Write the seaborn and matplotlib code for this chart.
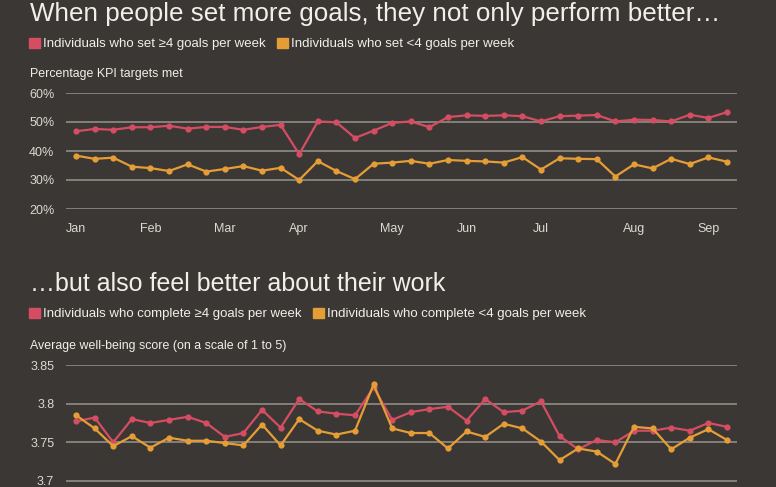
import pandas as pd
import seaborn as sns
import matplotlib.pyplot as plt
from matplotlib.patches import Patch

# weekly points, Jan to Sep
weeks = list(range(36))
month_labels = ["Jan", "Feb", "Mar", "Apr", "May", "Jun", "Jul", "Aug", "Sep"]
month_weeks = [0, 4, 8, 12, 17, 21, 25, 30, 34]

kpi_labels = ["Individuals who set \u22654 goals per week",
              "Individuals who set <4 goals per week"]
kpi_high = [46.8, 47.6, 47.3, 48.2, 48.2, 48.7, 47.7, 48.3, 48.3, 47.3, 48.3, 49.0,
            38.9, 50.2, 49.9, 44.5, 47.0, 49.7, 50.2, 48.2, 51.7, 52.3, 52.1, 52.3,
            52.0, 50.2, 52.0, 52.2, 52.4, 50.2, 50.8, 50.7, 50.2, 52.5, 51.4, 53.4]
kpi_low = [38.4, 37.3, 37.7, 34.6, 34.1, 33.1, 35.4, 32.9, 33.8, 34.8, 33.2, 34.2,
           30.0, 36.5, 33.1, 30.3, 35.6, 36.0, 36.6, 35.6, 36.9, 36.6, 36.4, 36.0,
           37.9, 33.6, 37.5, 37.3, 37.2, 31.2, 35.4, 34.0, 37.3, 35.5, 37.8, 36.3]
kpi_ticks = [20, 30, 40, 50, 60]

wb_labels = ["Individuals who complete \u22654 goals per week",
             "Individuals who complete <4 goals per week"]
wb_high = [3.777, 3.782, 3.750, 3.780, 3.775, 3.779, 3.783, 3.775, 3.757, 3.762, 3.792, 3.769,
           3.806, 3.790, 3.787, 3.785, 3.821, 3.779, 3.789, 3.793, 3.796, 3.778, 3.806, 3.789,
           3.791, 3.803, 3.758, 3.741, 3.753, 3.750, 3.765, 3.765, 3.769, 3.765, 3.775, 3.770]
wb_low = [3.785, 3.768, 3.745, 3.758, 3.743, 3.756, 3.752, 3.752, 3.749, 3.746, 3.773, 3.746,
          3.780, 3.765, 3.760, 3.765, 3.825, 3.768, 3.762, 3.762, 3.742, 3.764, 3.757, 3.774,
          3.768, 3.751, 3.727, 3.742, 3.738, 3.722, 3.770, 3.768, 3.741, 3.756, 3.767, 3.753]
wb_ticks = [3.7, 3.75, 3.8, 3.85]
wb_tick_labels = ["3.7", "3.75", "3.8", "3.85"]

BG = "#3b3734"
RED = "#d44d63"
ORANGE = "#e59d36"
GRID = "#8a857e"
TEXT = "#f2efea"
TICK = "#dcd8d2"

sns.set_style("dark", {"axes.facecolor": BG, "figure.facecolor": BG})
plt.rcParams["font.family"] = ["Liberation Sans", "DejaVu Sans"]


def long_form(high, low, labels):
    return pd.DataFrame({
        "week": weeks + weeks,
        "value": high + low,
        "group": [labels[0]] * len(high) + [labels[1]] * len(low),
    })


def style_axes(ax, ticks, tick_labels, ylim):
    ax.set_xlim(-0.54, 35.54)
    ax.set_ylim(*ylim)
    ax.set_yticks(ticks)
    ax.set_yticklabels(tick_labels)
    ax.grid(axis="y", color=GRID, linewidth=1.3)
    ax.grid(axis="x", visible=False)
    for s in ax.spines.values():
        s.set_visible(False)
    ax.tick_params(axis="both", length=0, colors=TICK, labelsize=9)
    ax.tick_params(axis="y", pad=8.5)
    ax.tick_params(axis="x", pad=10)
    ax.set_xlabel("")
    ax.set_ylabel("")


fig = plt.figure(figsize=(7.76, 4.87), dpi=100)
W, H = 776, 487


def px_axes(x0, y0, x1, y1):
    return fig.add_axes([x0 / W, 1 - y1 / H, (x1 - x0) / W, (y1 - y0) / H])


# top chart
ax1 = px_axes(66, 93, 737, 209)
sns.lineplot(data=long_form(kpi_high, kpi_low, kpi_labels), x="week", y="value",
             hue="group", palette=[RED, ORANGE], marker="o", markersize=4.5,
             markeredgewidth=0, linewidth=1.6, legend=False, ax=ax1)
style_axes(ax1, kpi_ticks, [f"{t}%" for t in kpi_ticks], (20, 60))
ax1.set_xticks(month_weeks)
ax1.set_xticklabels(month_labels)

# bottom chart (cut off by the bottom of the image)
ax2 = px_axes(66, 365, 737, 487)
sns.lineplot(data=long_form(wb_high, wb_low, wb_labels), x="week", y="value",
             hue="group", palette=[RED, ORANGE], marker="o", markersize=4.5,
             markeredgewidth=0, linewidth=1.6, legend=False, ax=ax2)
style_axes(ax2, wb_ticks, wb_tick_labels, (3.6922, 3.85))
ax2.set_xticks([])

# titles, legends, axis captions
fig.text(30 / W, 1 - 14 / H, "When people set more goals, they not only perform better\u2026",
         color=TEXT, fontsize=18.7, va="center", ha="left")
fig.text(30 / W, 1 - 284 / H, "\u2026but also feel better about their work",
         color=TEXT, fontsize=18, va="center", ha="left")
fig.text(30 / W, 1 - 74 / H, "Percentage KPI targets met",
         color=TEXT, fontsize=8.9, va="center", ha="left")
fig.text(30 / W, 1 - 346 / H, "Average well-being score (on a scale of 1 to 5)",
         color=TEXT, fontsize=8.9, va="center", ha="left")

for labels, yc in [(kpi_labels, 44), (wb_labels, 314)]:
    handles = [Patch(color=RED), Patch(color=ORANGE)]
    fig.legend(handles, labels, loc="center left", bbox_to_anchor=(29 / W, 1 - yc / H),
               ncol=2, frameon=False, fontsize=9.5, labelcolor=TEXT,
               handlelength=0.85, handleheight=0.85, handletextpad=0.22,
               columnspacing=0.85, borderaxespad=0, borderpad=0)

fig.savefig("out.png", dpi=100, facecolor=BG)
